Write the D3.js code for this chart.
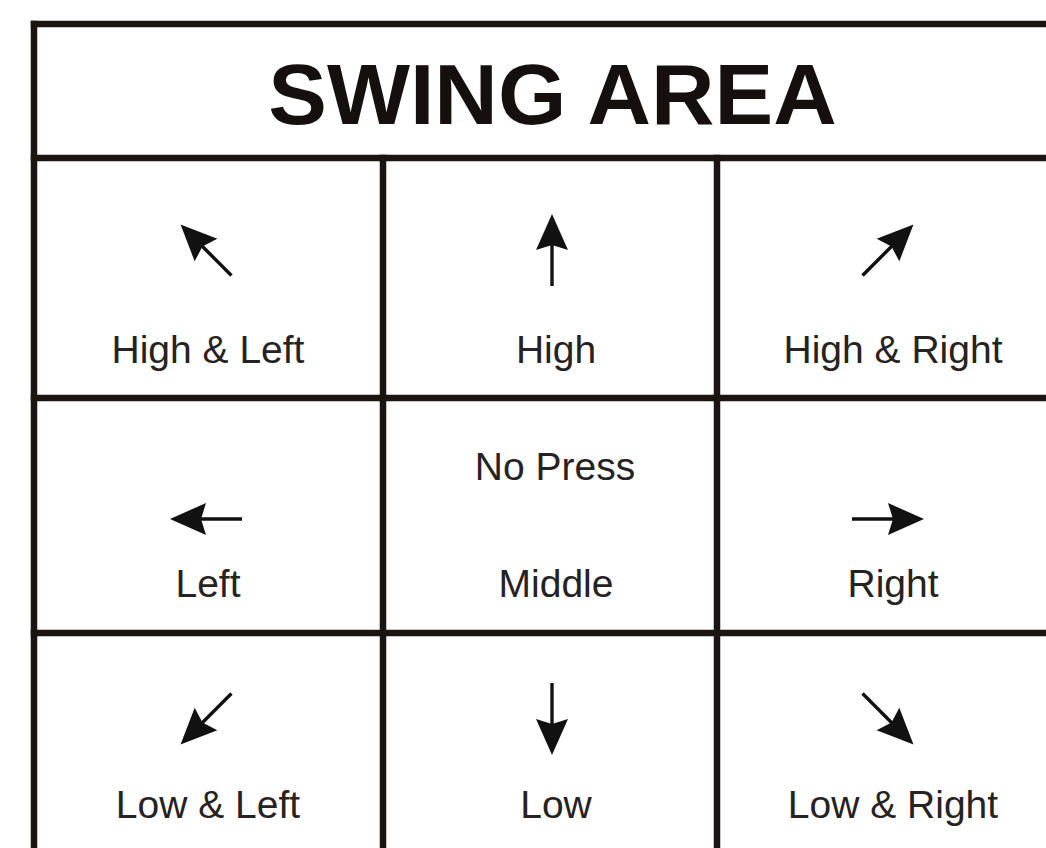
<!DOCTYPE html>
<html>
<head>
<meta charset="utf-8">
<script src="https://cdn.jsdelivr.net/npm/d3@7.9.0/dist/d3.min.js"></script>
<style>
  html, body { margin: 0; padding: 0; background: #fff; overflow: hidden; }
  svg { display: block; }
</style>
</head>
<body>
<svg id="chart" width="1046" height="848"></svg>
<script>
const title = 'SWING AREA';
const rows = ['High', 'Middle', 'Low'];
const cols = ['Left', 'Center', 'Right'];
const labels = [
  ['High & Left', 'High', 'High & Right'],
  ['Left', 'Middle', 'Right'],
  ['Low & Left', 'Low', 'Low & Right'],
];
// arrow direction per cell (dx, dy); null = no arrow
const arrowDirs = [
  [[-1, -1], [0, -1], [1, -1]],
  [[-1, 0], null, [1, 0]],
  [[-1, 1], [0, 1], [1, 1]],
];
const centerNote = 'No Press';

const lineColor = '#1b1411';
const textColor = '#262222';

const svg = d3.select('#chart');

// grid edges
const x = d3.scaleLinear().domain([0, 1, 2, 3]).range([34, 383, 717, 1075]);
const y = d3.scaleLinear().domain([0, 1, 2, 3]).range([158, 398, 633, 868]);
const titleTop = 24;

const cells = [];
rows.forEach((r, ri) => {
  cols.forEach((c, ci) => {
    cells.push({ ri, ci, label: labels[ri][ci], dir: arrowDirs[ri][ci] });
  });
});

// title (slightly wider than the font, as in the print)
const tx = (x(0) + x(3)) / 2 - 2;
svg.append('text')
  .attr('transform', `translate(${tx},124) scale(1.035,1)`)
  .attr('text-anchor', 'middle')
  .attr('font-family', 'Liberation Sans, Arial, sans-serif')
  .attr('font-weight', 'bold')
  .attr('font-size', 85)
  .attr('fill', '#150f0d')
  .text(title);

// lines
const g = svg.append('g')
  .attr('stroke', lineColor)
  .attr('stroke-width', 6.5)
  .attr('stroke-linecap', 'square');

g.append('line').attr('x1', x(0)).attr('x2', x(3)).attr('y1', titleTop).attr('y2', titleTop);
g.append('line').attr('x1', x(0)).attr('x2', x(0)).attr('y1', titleTop).attr('y2', y(3));
g.append('line').attr('x1', x(3)).attr('x2', x(3)).attr('y1', titleTop).attr('y2', y(3));

g.selectAll('.h').data(d3.range(4)).join('line')
  .attr('x1', x(0)).attr('x2', x(3))
  .attr('y1', d => y(d)).attr('y2', d => y(d));

g.selectAll('.v').data([1, 2]).join('line')
  .attr('x1', d => x(d)).attr('x2', d => x(d))
  .attr('y1', y(0)).attr('y2', y(3));

// layout inside cells
const labelX = [208, 556, 893];
const labelDy = [205, 199, 185];
const arrowX = [206, 552, 888];
const arrowDy = [92, 121, 86];

svg.append('g').selectAll('text').data(cells).join('text')
  .attr('x', d => labelX[d.ci])
  .attr('y', d => y(d.ri) + labelDy[d.ri])
  .attr('text-anchor', 'middle')
  .attr('font-family', 'Liberation Sans, Arial, sans-serif')
  .attr('font-size', 39)
  .attr('fill', textColor)
  .text(d => d.label);

svg.append('text')
  .attr('x', labelX[1] - 1)
  .attr('y', y(1) + 82)
  .attr('text-anchor', 'middle')
  .attr('font-family', 'Liberation Sans, Arial, sans-serif')
  .attr('font-size', 39)
  .attr('fill', textColor)
  .text(centerNote);

// arrows: drawn pointing +x, then rotated
const total = 72, headL = 36, headW = 32, notch = 5;
const arrows = svg.append('g').selectAll('g').data(cells.filter(d => d.dir)).join('g')
  .attr('transform', d => {
    const cx = arrowX[d.ci], cy = y(d.ri) + arrowDy[d.ri];
    const ang = Math.atan2(d.dir[1], d.dir[0]) * 180 / Math.PI;
    return `translate(${cx},${cy}) rotate(${ang})`;
  });

arrows.append('line')
  .attr('x1', -total / 2).attr('x2', total / 2 - headL + notch + 2)
  .attr('y1', 0).attr('y2', 0)
  .attr('stroke', '#111')
  .attr('stroke-width', 3.4);

arrows.append('path')
  .attr('d', d3.line()([
    [total / 2, 0],
    [total / 2 - headL, -headW / 2],
    [total / 2 - headL + notch, 0],
    [total / 2 - headL, headW / 2],
  ]) + 'Z')
  .attr('fill', '#111');
</script>
</body>
</html>
